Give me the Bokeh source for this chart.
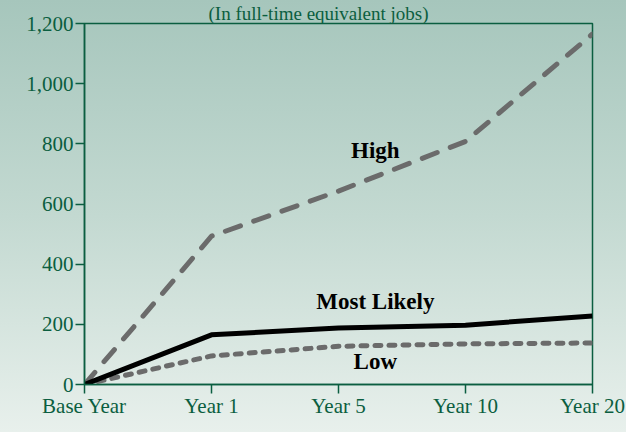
from bokeh.plotting import figure
from bokeh.models import FixedTicker, NumeralTickFormatter, Label, Range1d
from bokeh.embed import file_html
from bokeh.resources import INLINE

categories = ["Base Year", "Year 1", "Year 5", "Year 10", "Year 20"]
x_pos = [0, 1, 2, 3, 4]
high = [0, 493, 643, 808, 1165]
most_likely = [0, 165, 188, 197, 228]
low = [0, 95, 127, 135, 138]
y_ticks = [0, 200, 400, 600, 800, 1000, 1200]
title_text = "(In full-time equivalent jobs)"

GREEN = "#0b5e40"
GRAY = "#6b6b6b"
FONT = "Liberation Serif"

p = figure(width=626, height=432, output_backend="svg", toolbar_location=None,
           x_range=Range1d(0, 4), y_range=Range1d(0, 1200),
           min_border_left=84, min_border_right=34, min_border_top=0, min_border_bottom=48)
p.background_fill_alpha = 0
p.border_fill_alpha = 0
p.styles = {"background": "linear-gradient(to bottom, #a6c6bc 0%, #c3d9d1 50%, #e8f0ec 100%)"}
p.outline_line_color = GREEN
p.outline_line_width = 1.5
p.xgrid.visible = False
p.ygrid.visible = False

p.title.text = title_text
p.title.align = "left"
p.title.offset = 124
p.title.text_font = FONT
p.title.text_font_size = "19px"
p.title.text_font_style = "normal"
p.title.text_color = GREEN
p.title.standoff = 0

p.xaxis.ticker = FixedTicker(ticks=x_pos)
p.xaxis.major_label_overrides = {i: c for i, c in zip(x_pos, categories)}
p.yaxis.ticker = FixedTicker(ticks=y_ticks)
p.yaxis.formatter = NumeralTickFormatter(format="0,0")
for ax in (p.xaxis, p.yaxis):
    ax.axis_line_color = GREEN
    ax.axis_line_width = 1.5
    ax.major_tick_line_color = GREEN
    ax.major_tick_line_width = 1.5
    ax.major_tick_in = 0
    ax.major_tick_out = 9
    ax.minor_tick_line_color = None
    ax.major_label_text_font = FONT
    ax.major_label_text_font_size = "21px"
    ax.major_label_text_color = GREEN
p.xaxis.major_label_standoff = 0
p.yaxis.major_label_standoff = 2

p.line(x_pos, high, line_color=GRAY, line_width=5, line_dash="16 14", line_cap="round")
p.line(x_pos, low, line_color=GRAY, line_width=5, line_dash="6 8", line_cap="round")
p.line(x_pos, most_likely, line_color="black", line_width=5)

series_labels = [("High", 777), ("Most Likely", 275), ("Low", 76)]
for txt, yv in series_labels:
    p.add_layout(Label(x=2.29, y=yv, text=txt, text_align="center", text_baseline="alphabetic",
                       text_font=FONT, text_font_size="23px", text_font_style="bold",
                       text_color="black"))

open("out.html", "w").write(file_html(p, INLINE))
